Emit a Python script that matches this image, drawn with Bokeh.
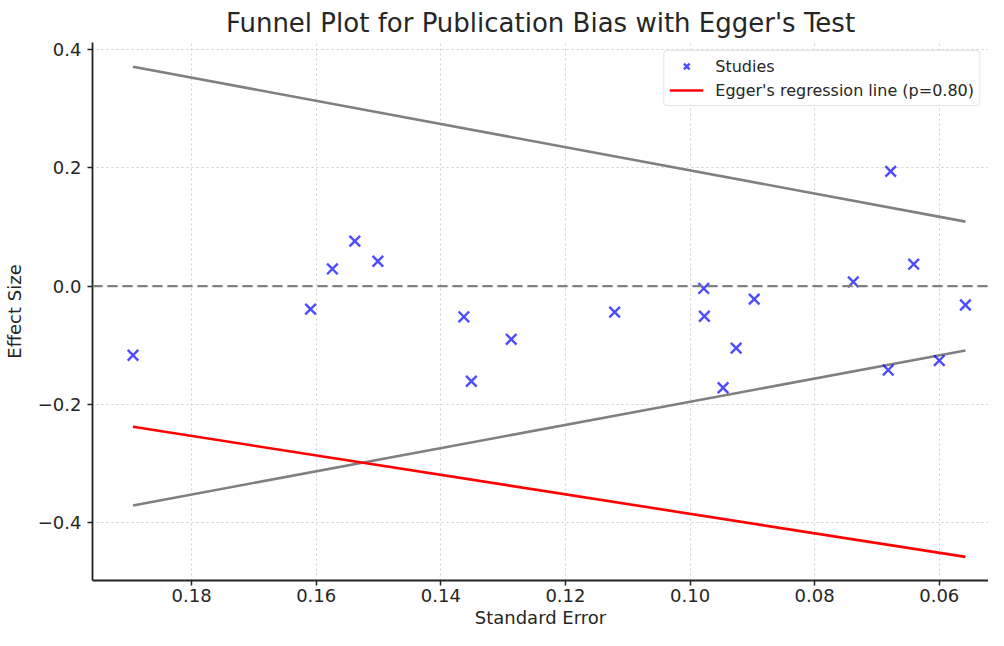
from bokeh.plotting import figure
from bokeh.models import (Range1d, FixedTicker, CustomJSTickFormatter, Legend,
                          LegendItem, Span)
from bokeh.embed import file_html
from bokeh.resources import INLINE

# ---- data ----
se = [0.1894, 0.1609, 0.1574, 0.1538, 0.1501, 0.1363, 0.1351, 0.1287, 0.1121, 0.0978,
      0.0977, 0.0947, 0.0926, 0.0897, 0.0738, 0.0678, 0.0682, 0.0641, 0.0600, 0.0558]
effect = [-0.117, -0.039, 0.029, 0.076, 0.042, -0.052, -0.161, -0.090, -0.044, -0.004,
          -0.051, -0.172, -0.105, -0.022, 0.007, 0.194, -0.142, 0.037, -0.126, -0.032]

funnel_se = [0.1894, 0.0558]
funnel_upper = [0.371, 0.109]
funnel_lower = [-0.371, -0.109]
egger_y = [-0.238, -0.458]
pooled_effect = 0.0

x_ticks = [0.18, 0.16, 0.14, 0.12, 0.10, 0.08, 0.06]
y_ticks = [-0.4, -0.2, 0.0, 0.2, 0.4]

FONT = "DejaVu Sans"
TXT = "#262626"

p = figure(width=988, height=630,
           x_range=Range1d(0.1959, 0.0521), y_range=Range1d(-0.498, 0.412),
           output_backend="svg", toolbar_location=None,
           min_border_left=84, min_border_right=0, min_border_top=36, min_border_bottom=0,
           title="Funnel Plot for Publication Bias with Egger's Test")
p.outline_line_color = None
p.background_fill_color = "white"
p.border_fill_color = "white"

p.title.text_font = FONT
p.title.text_font_size = "26px"
p.title.text_font_style = "normal"
p.title.text_color = TXT
p.title.align = "center"
p.title.offset = 10

# axes
for ax in (p.xaxis[0], p.yaxis[0]):
    ax.axis_line_color = "#222222"
    ax.axis_line_width = 1.8
    ax.major_tick_line_color = "#222222"
    ax.major_tick_line_width = 1.5
    ax.major_tick_in = 0
    ax.major_tick_out = 5
    ax.minor_tick_in = 0
    ax.minor_tick_out = 0
    ax.major_label_text_font = FONT
    ax.major_label_text_font_size = "18px"
    ax.major_label_text_color = TXT
    ax.axis_label_text_font = FONT
    ax.axis_label_text_font_size = "18px"
    ax.axis_label_text_font_style = "normal"
    ax.axis_label_text_color = TXT

p.xaxis.axis_label = "Standard Error"
p.yaxis.axis_label = "Effect Size"
p.xaxis.ticker = FixedTicker(ticks=x_ticks)
p.yaxis.ticker = FixedTicker(ticks=y_ticks)
p.xaxis.formatter = CustomJSTickFormatter(code="return tick.toFixed(2);")
p.yaxis.formatter = CustomJSTickFormatter(
    code="return (tick < -1e-9 ? '\u2212' : '') + Math.abs(tick).toFixed(1);")
p.xaxis.major_label_standoff = 3
p.xaxis.axis_label_standoff = 2
p.yaxis.major_label_standoff = 6
p.yaxis.axis_label_standoff = 10

p.xgrid.grid_line_color = "#cfcfcf"
p.ygrid.grid_line_color = "#cfcfcf"
p.xgrid.grid_line_dash = "2 3"
p.ygrid.grid_line_dash = "2 3"
p.xgrid.grid_line_width = 1
p.ygrid.grid_line_width = 1

# funnel lines
p.line(funnel_se, funnel_upper, line_color="gray", line_width=2.6)
p.line(funnel_se, funnel_lower, line_color="gray", line_width=2.6)

# zero line
p.add_layout(Span(location=pooled_effect, dimension="width", line_color="gray",
                  line_width=2.2, line_dash="10 5"))

# studies
r_st = p.scatter(se, effect, marker="x", size=15, line_color="blue",
                 line_alpha=0.7, line_width=2.4)

# Egger's regression line
r_eg = p.line(funnel_se, egger_y, line_color="red", line_width=2.6)

legend = Legend(items=[LegendItem(label="Studies", renderers=[r_st]),
                       LegendItem(label="Egger's regression line (p=0.80)", renderers=[r_eg])],
                location="top_right")
legend.label_text_font = FONT
legend.label_text_font_size = "16px"
legend.label_text_color = TXT
legend.border_line_color = "#cccccc"
legend.border_line_width = 1
legend.border_radius = 4
legend.background_fill_alpha = 0.85
legend.padding = 5
legend.margin = 8
legend.spacing = 4
legend.glyph_width = 34
legend.label_standoff = 12
legend.label_height = 20
legend.glyph_height = 20
p.add_layout(legend)

open("out.html", "w").write(file_html(p, INLINE))
